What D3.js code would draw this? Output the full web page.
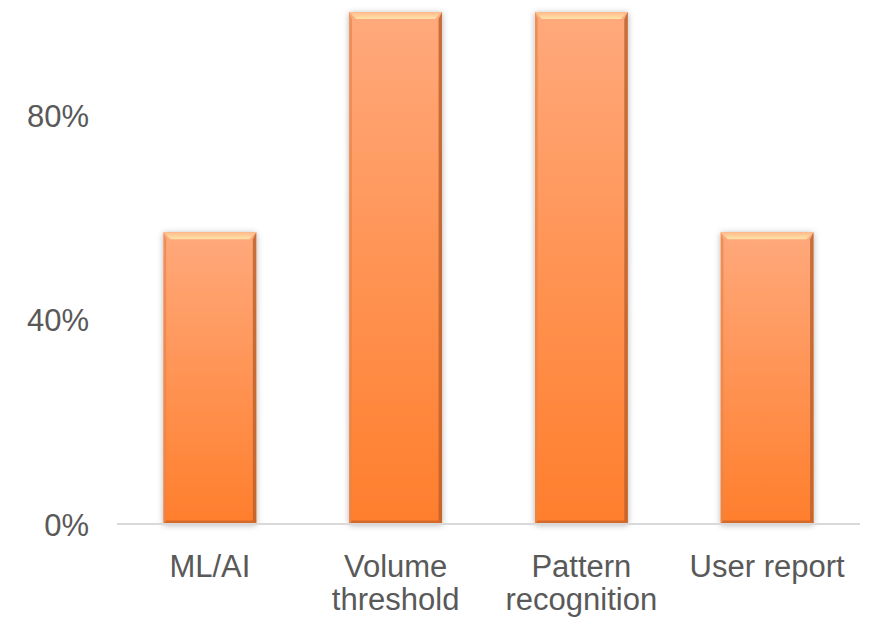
<!DOCTYPE html>
<html>
<head>
<meta charset="utf-8">
<script src="https://cdn.jsdelivr.net/npm/d3@7"></script>
<style>
  body { margin: 0; background: #fff; }
  text { font-family: "Liberation Sans", Arial, sans-serif; fill: #595959; }
</style>
</head>
<body>
<svg id="chart" width="874" height="619"></svg>
<script>
const categories = ["ML/AI", "Volume threshold", "Pattern recognition", "User report"];
const labelLines = [["ML/AI"], ["Volume", "threshold"], ["Pattern", "recognition"], ["User report"]];
const values = [57, 100, 100, 57];
const yTicks = [0, 40, 80];

const margin = { top: 12, right: 14, bottom: 95, left: 117 };
const width = 874 - margin.left - margin.right;
const height = 619 - margin.top - margin.bottom;

const svg = d3.select("#chart");
const defs = svg.append("defs");

const grad = defs.append("linearGradient")
    .attr("id", "barGrad")
    .attr("x1", 0).attr("y1", 0).attr("x2", 0).attr("y2", 1);
grad.append("stop").attr("offset", "0%").attr("stop-color", "#FFA97C");
grad.append("stop").attr("offset", "100%").attr("stop-color", "#FF7E2C");

const topGrad = defs.append("linearGradient")
    .attr("id", "topGrad")
    .attr("x1", 0).attr("y1", 0).attr("x2", 0).attr("y2", 1);
topGrad.append("stop").attr("offset", "0%").attr("stop-color", "#FFB98A");
topGrad.append("stop").attr("offset", "100%").attr("stop-color", "#FFE3A8");

const shadow = defs.append("filter")
    .attr("id", "shadow")
    .attr("x", "-20%").attr("y", "-10%").attr("width", "140%").attr("height", "120%");
shadow.append("feDropShadow")
    .attr("dx", 0).attr("dy", 1)
    .attr("stdDeviation", 3)
    .attr("flood-color", "#000")
    .attr("flood-opacity", 0.3);

const g = svg.append("g")
    .attr("transform", "translate(" + margin.left + "," + margin.top + ")");

const x = d3.scaleBand()
    .domain(categories)
    .range([0, width])
    .paddingInner(0.5)
    .paddingOuter(0.25);

const y = d3.scaleLinear()
    .domain([0, 100])
    .range([height, 0]);

// y tick labels (no axis line)
g.append("g")
    .attr("class", "y-axis")
    .call(d3.axisLeft(y).tickValues(yTicks).tickFormat(d => d + "%").tickSize(0).tickPadding(28))
    .call(a => a.select(".domain").remove())
    .selectAll("text")
    .style("font-size", "31px")
    .attr("dy", "0.38em")
    .attr("fill", "#595959");

// bars
const bev = 7;
const bars = g.selectAll(".bar")
    .data(categories)
    .enter()
    .append("g")
    .attr("class", "bar");

bars.append("rect")
    .attr("x", d => x(d))
    .attr("y", (d, i) => y(values[i]))
    .attr("width", x.bandwidth())
    .attr("height", (d, i) => height - y(values[i]))
    .attr("fill", "url(#barGrad)")
    .attr("filter", "url(#shadow)");

// bevel edges
function poly(pts) { return pts.map(p => p.join(",")).join(" "); }
bars.append("polygon") // top
    .attr("points", (d, i) => {
        const x0 = x(d), x1 = x(d) + x.bandwidth(), y0 = y(values[i]);
        return poly([[x0, y0], [x1, y0], [x1 - bev, y0 + bev], [x0 + bev, y0 + bev]]);
    })
    .attr("fill", "url(#topGrad)");
bars.append("polygon") // left
    .attr("points", (d, i) => {
        const x0 = x(d), y0 = y(values[i]), y1 = y(0);
        return poly([[x0, y0], [x0 + bev * 0.4, y0 + bev], [x0 + bev * 0.4, y1 - bev * 0.5], [x0, y1]]);
    })
    .attr("fill", "#E8854A").attr("opacity", 0.7);
bars.append("polygon") // right
    .attr("points", (d, i) => {
        const x1 = x(d) + x.bandwidth(), y0 = y(values[i]), y1 = y(0);
        return poly([[x1, y0], [x1 - bev * 0.5, y0 + bev], [x1 - bev * 0.5, y1 - bev * 0.5], [x1, y1]]);
    })
    .attr("fill", "#B9602C").attr("opacity", 0.8);
bars.append("polygon") // bottom
    .attr("points", (d, i) => {
        const x0 = x(d), x1 = x(d) + x.bandwidth(), y1 = y(0);
        return poly([[x0, y1], [x0 + bev * 0.4, y1 - bev * 0.5], [x1 - bev * 0.5, y1 - bev * 0.5], [x1, y1]]);
    })
    .attr("fill", "#C9642A").attr("opacity", 0.8);

// baseline
g.append("line")
    .attr("x1", 0).attr("x2", width)
    .attr("y1", y(0)).attr("y2", y(0))
    .attr("stroke", "#D9D9D9")
    .attr("stroke-width", 2);

// category labels
const labels = g.append("g").attr("class", "x-labels");
labels.selectAll("text")
    .data(categories)
    .enter()
    .append("text")
    .attr("x", d => x(d) + x.bandwidth() / 2)
    .attr("y", height + 53)
    .attr("text-anchor", "middle")
    .style("font-size", "31px")
    .each(function (d, i) {
        d3.select(this).selectAll("tspan")
            .data(labelLines[i])
            .enter()
            .append("tspan")
            .attr("x", x(d) + x.bandwidth() / 2)
            .attr("dy", (t, j) => j === 0 ? 0 : 33)
            .text(t => t);
    });
</script>
</body>
</html>
